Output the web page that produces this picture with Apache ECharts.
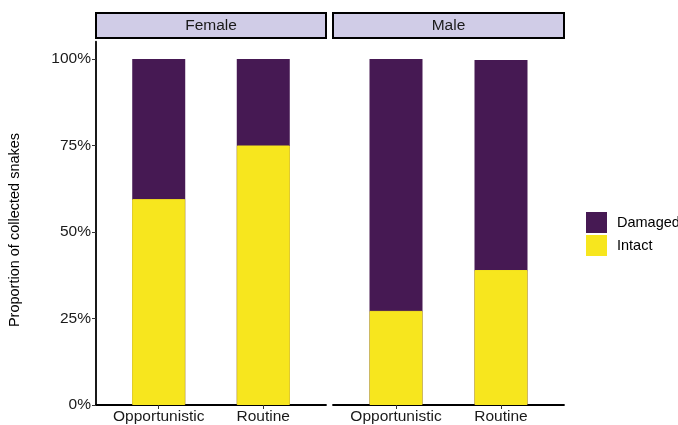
<!DOCTYPE html>
<html>
<head>
<meta charset="utf-8">
<script src="https://cdn.jsdelivr.net/npm/echarts@6/dist/echarts.min.js"></script>
<style>
html,body{margin:0;padding:0;background:#fff;}
#chart{width:678px;height:425px;}
</style>
</head>
<body>
<div id="chart"></div>
<script>
const panels = ['Female', 'Male'];
const categories = ['Opportunistic', 'Routine'];
const intactFemale = [59.5, 75.0];
const damagedFemale = [40.5, 25.0];
const intactMale = [27.2, 39.0];
const damagedMale = [72.8, 60.7];
const yTicks = [0, 25, 50, 75, 100];

const FONT = '"Liberation Sans", Arial, Helvetica, sans-serif';
const PURPLE = '#461953';
const YELLOW = '#F7E61E';

const chart = echarts.init(document.getElementById('chart'), null, {renderer: 'canvas'});

const grids = [
  {left: 96, top: 41.7, width: 230, height: 363.3},
  {left: 333, top: 41.7, width: 231, height: 363.3}
];

function xAxis(i) {
  return {
    type: 'value', gridIndex: i, min: 0.4, max: 2.6,
    axisLine: {show: true, onZero: false, lineStyle: {color: '#000', width: 1.8}},
    axisTick: {show: true, customValues: [1, 2], length: 4, lineStyle: {color: '#333', width: 1}},
    axisLabel: {customValues: [1, 2], formatter: v => categories[Math.round(v) - 1] || '',
      color: '#1a1a1a', fontSize: 15.5, fontFamily: FONT, margin: 4},
    splitLine: {show: false}
  };
}
function yAxis(i) {
  return {
    type: 'value', gridIndex: i, min: 0, max: 105, show: i === 0,
    axisLine: {show: true, lineStyle: {color: '#000', width: 1.8}},
    axisTick: {show: true, customValues: yTicks, length: 4, lineStyle: {color: '#333', width: 1}},
    axisLabel: {customValues: yTicks, formatter: v => v + '%', color: '#1a1a1a', fontSize: 15.5, fontFamily: FONT, margin: 5},
    splitLine: {show: false}
  };
}
const pairs = arr => arr.map((v, k) => [k + 1, v]);
// stacked tops = intact + damaged (stack built here, drawn as overlapping bars)
const tops = (a, b) => a.map((v, k) => [k + 1, v + b[k]]);

const intactStyle = {color: YELLOW, borderColor: YELLOW, borderWidth: 1};

const series = [
  {name: 'Damaged', type: 'bar', xAxisIndex: 0, yAxisIndex: 0, barWidth: 53, barGap: '-100%', z: 2,
   data: tops(intactFemale, damagedFemale), itemStyle: {color: PURPLE}},
  {name: 'Intact', type: 'bar', xAxisIndex: 0, yAxisIndex: 0, barWidth: 53, barGap: '-100%', z: 3,
   data: pairs(intactFemale), itemStyle: intactStyle},
  {name: 'Damaged', type: 'bar', xAxisIndex: 1, yAxisIndex: 1, barWidth: 53, barGap: '-100%', z: 2,
   data: tops(intactMale, damagedMale), itemStyle: {color: PURPLE}},
  {name: 'Intact', type: 'bar', xAxisIndex: 1, yAxisIndex: 1, barWidth: 53, barGap: '-100%', z: 3,
   data: pairs(intactMale), itemStyle: intactStyle}
];

const strips = grids.map((g, i) => ({
  type: 'group',
  children: [
    {type: 'rect', shape: {x: g.left, y: 13, width: g.width, height: 25},
     style: {fill: '#D0CCE7', stroke: '#000', lineWidth: 2}},
    {type: 'text', x: g.left + g.width / 2, y: 25.5,
     style: {text: panels[i], fill: '#1a1a1a', font: '15.5px ' + FONT, textAlign: 'center', textVerticalAlign: 'middle'}}
  ]
}));

chart.setOption({
  animation: false,
  backgroundColor: '#fff',
  grid: grids,
  xAxis: [xAxis(0), xAxis(1)],
  yAxis: [yAxis(0), yAxis(1)],
  legend: {
    data: ['Damaged', 'Intact'], orient: 'vertical', left: 586, top: 212, padding: 0,
    itemWidth: 21, itemHeight: 21, itemGap: 2, icon: 'rect',
    itemStyle: {borderWidth: 0},
    textStyle: {fontSize: 14.5, fontFamily: FONT, color: '#000', padding: [0, 0, 0, 5]}
  },
  graphic: strips.concat([
    {type: 'text', x: 15, y: 230, rotation: Math.PI / 2,
     style: {text: 'Proportion of collected snakes', fill: '#000', font: '14.5px ' + FONT, textAlign: 'center', textVerticalAlign: 'middle'}}
  ]),
  series: series
});
</script>
</body>
</html>
